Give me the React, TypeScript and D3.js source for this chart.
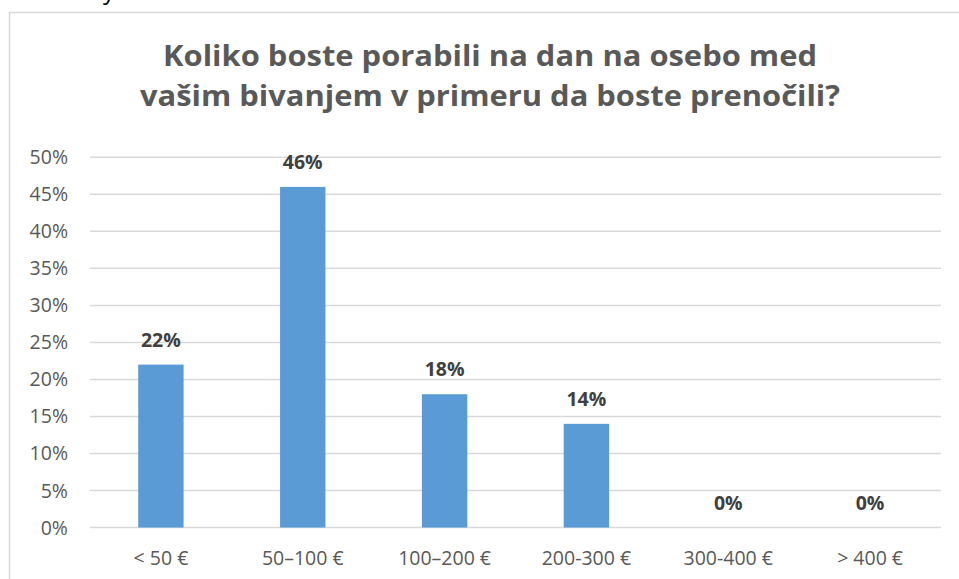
import React from "react";
import * as d3 from "d3";

const categories = ["< 50 €", "50–100 €", "100–200 €", "200-300 €", "300-400 €", "> 400 €"];
const values = [0.22, 0.46, 0.18, 0.14, 0, 0];
const yTicks = [0, 0.05, 0.1, 0.15, 0.2, 0.25, 0.3, 0.35, 0.4, 0.45, 0.5];
const titleLines = [
  "Koliko boste porabili na dan na osebo med",
  "vašim bivanjem v primeru da boste prenočili?",
];

const W = 959;
const H = 579;
const FONT = "'Open Sans', 'DejaVu Sans', sans-serif";

export default function App() {
  const x = d3
    .scaleBand<string>()
    .domain(categories)
    .range([90, 941])
    .paddingInner(0.68)
    .paddingOuter(0.34);
  const y = d3.scaleLinear().domain([0, 0.5]).range([527.5, 157.3]);
  const pct = d3.format(".0%");

  return (
    <svg
      width={W}
      height={H}
      style={{ position: "absolute", left: 0, top: 0, background: "#fff" }}
      fontFamily={FONT}
    >
      {/* tail of a text line above the chart, cut by the crop */}
      <text x={103} y={-1} fontSize={24} fill="#000">y</text>

      {/* chart frame */}
      <rect x={9.5} y={12.5} width={1000} height={1000} fill="#fff" stroke="#D9D9D9" strokeWidth={1.5} />

      {/* title */}
      {titleLines.map((t, i) => (
        <text
          key={i}
          x={490}
          y={66 + i * 40}
          textAnchor="middle"
          fontSize={28}
          fontWeight="bold"
          fill="#595959"
          textLength={i === 0 ? 654 : 700}
          lengthAdjust="spacingAndGlyphs"
        >
          {t}
        </text>
      ))}

      {/* gridlines */}
      {yTicks.map((t) => (
        <line key={t} x1={90} x2={941} y1={y(t)} y2={y(t)} stroke="#D9D9D9" strokeWidth={1.5} />
      ))}

      {/* y tick labels */}
      {yTicks.map((t) => (
        <text key={t} x={68} y={y(t)} dy="0.36em" textAnchor="end" fontSize={19.5} fill="#595959">
          {pct(t)}
        </text>
      ))}

      {/* bars */}
      {categories.map((c, i) => (
        <rect
          key={c}
          x={x(c)}
          y={y(values[i])}
          width={x.bandwidth()}
          height={y(0) - y(values[i])}
          fill="#5B9BD5"
        />
      ))}

      {/* data labels */}
      {categories.map((c, i) => (
        <text
          key={c}
          x={(x(c) ?? 0) + x.bandwidth() / 2}
          y={y(values[i]) - 18}
          textAnchor="middle"
          fontSize={19.5}
          fontWeight="bold"
          fill="#404040"
        >
          {pct(values[i])}
        </text>
      ))}

      {/* x labels */}
      {categories.map((c) => (
        <text
          key={c}
          x={(x(c) ?? 0) + x.bandwidth() / 2}
          y={565}
          textAnchor="middle"
          fontSize={19.5}
          fill="#595959"
        >
          {c}
        </text>
      ))}
    </svg>
  );
}
